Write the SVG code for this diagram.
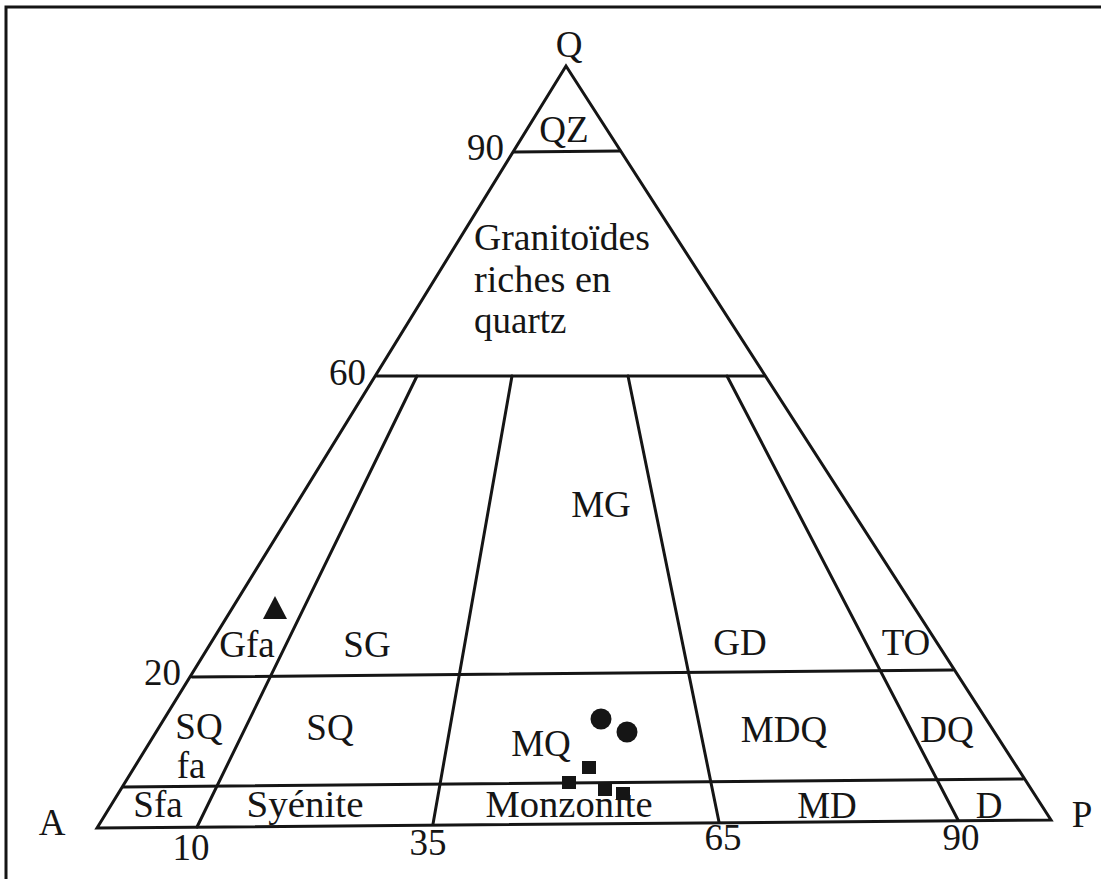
<svg xmlns="http://www.w3.org/2000/svg" width="1101" height="879" viewBox="0 0 1101 879">
<style>
.ln{stroke:#151515;stroke-width:3;fill:none;stroke-linecap:round;stroke-linejoin:miter}
.fr{stroke:#151515;stroke-width:3;fill:none}
text{font-family:"Liberation Serif","Times New Roman",serif;font-size:37px;fill:#151515}
.c{text-anchor:middle}
.e{text-anchor:end}
.sym{fill:#151515}
</style>
<rect width="1101" height="879" fill="#fff"/>
<g id="frame">
<path class="fr" d="M6,879 V7 H1101"/>
</g>
<g id="connectors">
<path class="ln" d="M97,828 L566,66 L1051,820 Z"/>
<line class="ln" x1="514" y1="152" x2="620" y2="151"/>
<line class="ln" x1="377" y1="376" x2="764" y2="376"/>
<line class="ln" x1="192" y1="677" x2="953" y2="670"/>
<line class="ln" x1="123" y1="787" x2="1023" y2="779"/>
<line class="ln" x1="417" y1="376" x2="197" y2="827"/>
<line class="ln" x1="512" y1="376" x2="433" y2="824"/>
<line class="ln" x1="628" y1="376" x2="719" y2="822"/>
<line class="ln" x1="727" y1="376" x2="958" y2="820"/>
</g>
<g id="vertex-labels">
<text class="c" x="569" y="57">Q</text>
<text class="c" x="52" y="835">A</text>
<text class="c" x="1082" y="827">P</text>
</g>
<g id="scale-labels">
<text class="e" x="504" y="160">90</text>
<text class="e" x="366" y="385">60</text>
<text class="e" x="181" y="685">20</text>
<text class="c" x="191" y="860">10</text>
<text class="c" x="428" y="855">35</text>
<text class="c" x="723" y="850">65</text>
<text class="c" x="961" y="850">90</text>
</g>
<g id="field-QZ"><text class="c" x="564" y="142">QZ</text></g>
<g id="field-granitoides">
<text x="474" y="250" textLength="176" lengthAdjust="spacingAndGlyphs">Granitoïdes</text>
<text x="474" y="292" textLength="137" lengthAdjust="spacingAndGlyphs">riches en</text>
<text x="474" y="333">quartz</text>
</g>
<g id="field-MG"><text class="c" x="601" y="517">MG</text></g>
<g id="field-Gfa"><text class="c" x="247" y="657">Gfa</text></g>
<g id="field-SG"><text class="c" x="367" y="657">SG</text></g>
<g id="field-GD"><text class="c" x="740" y="655">GD</text></g>
<g id="field-TO"><text class="c" x="906" y="655">TO</text></g>
<g id="field-SQfa"><text class="c" x="199" y="739">SQ</text><text class="c" x="191" y="778">fa</text></g>
<g id="field-SQ"><text class="c" x="330" y="740">SQ</text></g>
<g id="field-MQ"><text class="c" x="541" y="756">MQ</text></g>
<g id="field-MDQ"><text class="c" x="784" y="742">MDQ</text></g>
<g id="field-DQ"><text class="c" x="947" y="742">DQ</text></g>
<g id="field-Sfa"><text class="c" x="158" y="817">Sfa</text></g>
<g id="field-Syenite"><text class="c" x="305" y="817" textLength="117" lengthAdjust="spacingAndGlyphs">Syénite</text></g>
<g id="field-Monzonite"><text class="c" x="569" y="817" textLength="167" lengthAdjust="spacingAndGlyphs">Monzonite</text></g>
<g id="field-MD"><text class="c" x="827" y="818">MD</text></g>
<g id="field-D"><text class="c" x="989" y="818">D</text></g>
<g id="samples">
<polygon class="sym" points="275,596 263,619 287,619"/>
<circle class="sym" cx="601" cy="719" r="10.5"/>
<circle class="sym" cx="627" cy="732" r="10.5"/>
<rect class="sym" x="582" y="761" width="14" height="13"/>
<rect class="sym" x="562" y="776" width="14" height="13"/>
<rect class="sym" x="598" y="783" width="14" height="13"/>
<rect class="sym" x="616" y="787" width="14" height="13"/>
</g>
</svg>
